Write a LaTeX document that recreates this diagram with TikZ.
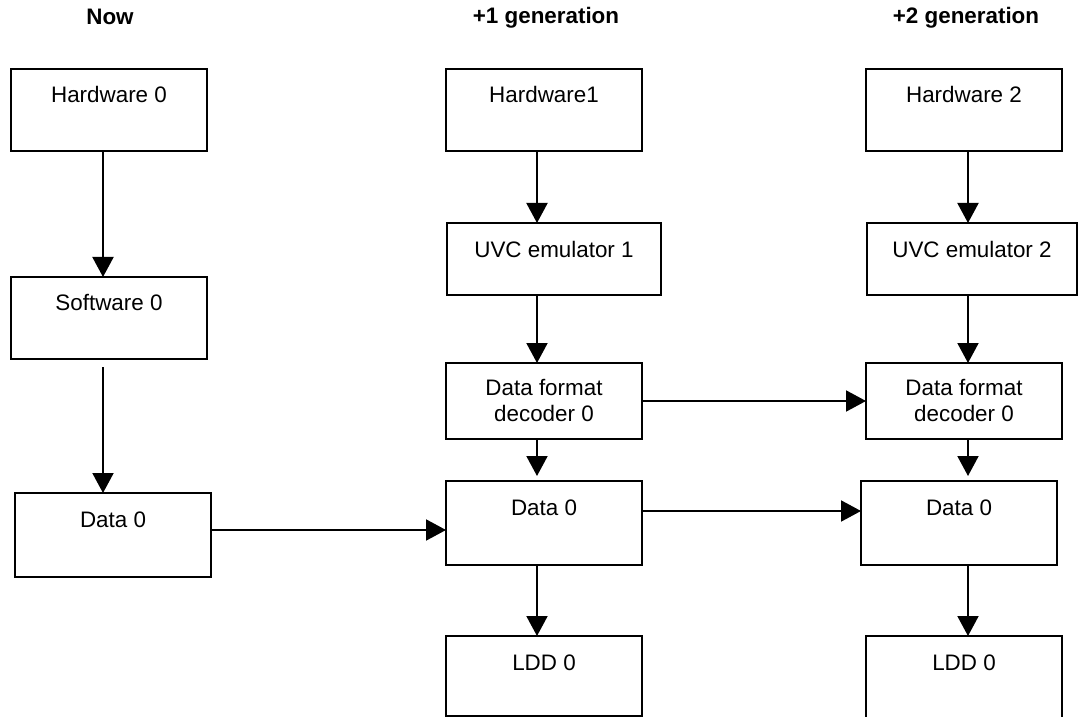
\documentclass[tikz,border=0pt]{standalone}
\usepackage{fontspec}
\setmainfont{Liberation Sans}
\usetikzlibrary{arrows.meta}

\begin{document}
\begin{tikzpicture}[x=0.5pt, y=-0.5pt,
        font=\fontsize{11.2}{13}\selectfont,
        blk/.style={draw, line width=1pt, outer sep=0pt, inner ysep=0pt, text height=17pt, text depth=24pt, minimum width=98pt},
        blk2/.style={draw, line width=1pt, outer sep=0pt, align=center, minimum width=98pt, minimum height=38pt},
        head/.style={font=\fontsize{11.2}{13}\selectfont\bfseries},
        arr/.style={line width=1pt, -{Triangle[length=10pt, width=10.5pt]}}]
        \useasboundingbox (0,0) rectangle (1078,717);
        % column headers
        \node[head] (now) at (110,17) {Now};
        \node[head] (gen1) at (546,18) {+1 generation};
        \node[head] (gen2) at (966,18) {+2 generation};
        % now
        \node[blk] (hw0) at (109,110) {Hardware 0};
        \node[blk] (sw0) at (109,318) {Software 0};
        \node[blk, text depth=25pt] (data0) at (113,535) {Data 0};
        % +1 generation
        \node[blk] (hw1) at (544,110) {Hardware1};
        \node[blk, minimum width=107pt, text depth=19pt] (uvc1) at (554,259) {UVC emulator 1};
        \node[blk2] (dec1) at (544,401) {Data format\\decoder 0};
        \node[blk, text depth=25pt] (data1) at (544,523) {Data 0};
        \node[blk, text depth=23pt] (ldd1) at (544,676) {LDD 0};
        % +2 generation
        \node[blk] (hw2) at (964,110) {Hardware 2};
        \node[blk, minimum width=105pt, text depth=19pt] (uvc2) at (972,259) {UVC emulator 2};
        \node[blk2] (dec2) at (964,401) {Data format\\decoder 0};
        \node[blk, text depth=25pt] (data2) at (959,523) {Data 0};
        \node[blk, text depth=26pt] (ldd2) at (964,679) {LDD 0};
        % arrow columns and rows
        \coordinate (c0) at (103,0);
        \coordinate (c1) at (537,0);
        \coordinate (c2) at (968,0);
        \coordinate (r0) at (0,530);
        \coordinate (r1) at (0,511);
        \draw[arr] (hw0.south -| c0) -- (sw0.north -| c0);
        \draw[arr, shorten <=4pt] (sw0.south -| c0) -- (data0.north -| c0);
        \draw[arr] (hw1.south -| c1) -- (uvc1.north -| c1);
        \draw[arr] (uvc1.south -| c1) -- (dec1.north -| c1);
        \draw[arr, shorten >=2.5pt] (dec1.south -| c1) -- (data1.north -| c1);
        \draw[arr] (data1.south -| c1) -- (ldd1.north -| c1);
        \draw[arr] (hw2.south -| c2) -- (uvc2.north -| c2);
        \draw[arr] (uvc2.south -| c2) -- (dec2.north -| c2);
        \draw[arr, shorten >=2.5pt] (dec2.south -| c2) -- (data2.north -| c2);
        \draw[arr] (data2.south -| c2) -- (ldd2.north -| c2);
        % across generations
        \draw[arr] (data0.east |- r0) -- (data1.west |- r0);
        \draw[arr] (dec1.east) -- (dec2.west);
        \draw[arr] (data1.east |- r1) -- (data2.west |- r1);
    \end{tikzpicture}
\end{document}
